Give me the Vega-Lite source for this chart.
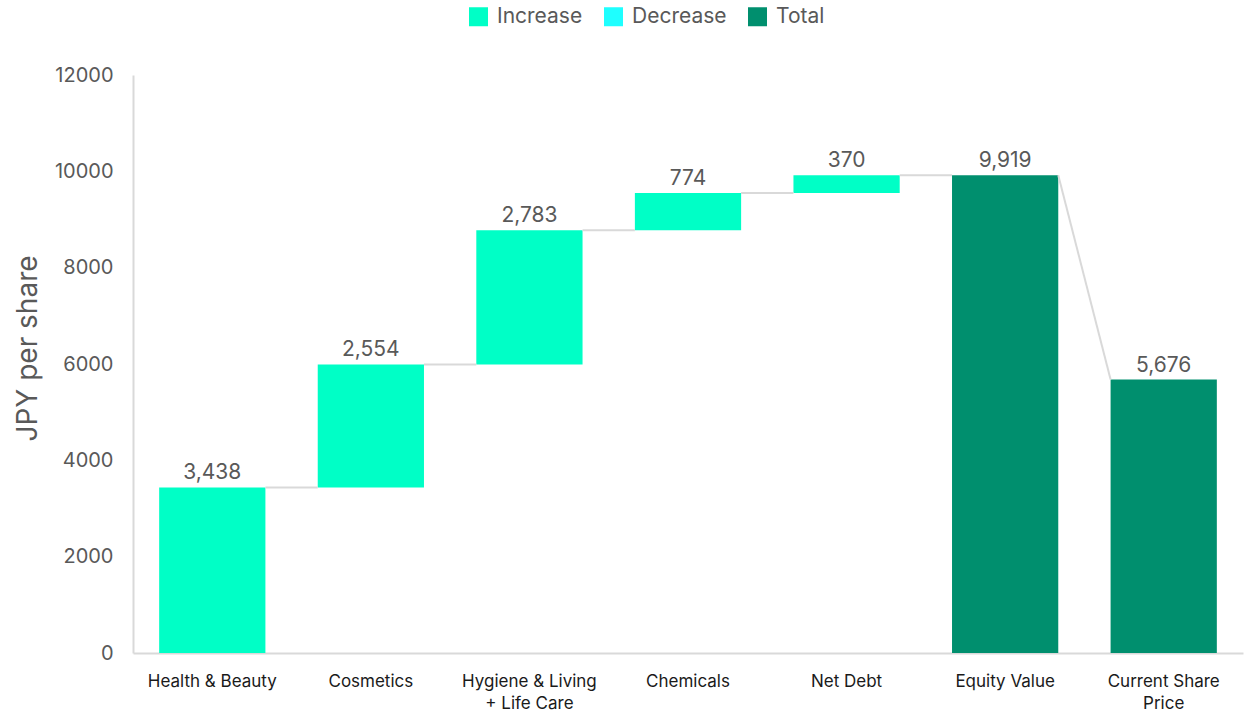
{
  "$schema": "https://vega.github.io/schema/vega-lite/v6.json",
  "width": 1110,
  "height": 578,
  "autosize": {"type": "none"},
  "padding": {"left": 133, "top": 75, "right": 2, "bottom": 61},
  "background": "white",
  "config": {
    "view": {"stroke": null},
    "font": "Inter",
    "axisX": {
      "labelAngle": 0,
      "labelFontSize": 17,
      "labelColor": "#1a1a1a",
      "labelPadding": 20,
      "labelLineHeight": 22,
      "ticks": false,
      "domainColor": "#D9D9D9",
      "domainWidth": 2,
      "title": null
    }
  },
  "datasets": {
    "steps": [
      {"category": "Health & Beauty", "kind": "Increase", "start": 0, "end": 3438, "amount": 3438},
      {"category": "Cosmetics", "kind": "Increase", "start": 3438, "end": 5992, "amount": 2554},
      {"category": "Hygiene & Living + Life Care", "kind": "Increase", "start": 5992, "end": 8775, "amount": 2783},
      {"category": "Chemicals", "kind": "Increase", "start": 8775, "end": 9549, "amount": 774},
      {"category": "Net Debt", "kind": "Increase", "start": 9549, "end": 9919, "amount": 370},
      {"category": "Equity Value", "kind": "Total", "start": 0, "end": 9919, "amount": 9919},
      {"category": "Current Share Price", "kind": "Total", "start": 0, "end": 5676, "amount": 5676}
    ],
    "links": [
      {"from": "Health & Beauty", "to": "Cosmetics", "from_level": 3438, "to_level": 3438},
      {"from": "Cosmetics", "to": "Hygiene & Living + Life Care", "from_level": 5992, "to_level": 5992},
      {"from": "Hygiene & Living + Life Care", "to": "Chemicals", "from_level": 8775, "to_level": 8775},
      {"from": "Chemicals", "to": "Net Debt", "from_level": 9549, "to_level": 9549},
      {"from": "Net Debt", "to": "Equity Value", "from_level": 9919, "to_level": 9919},
      {"from": "Equity Value", "to": "Current Share Price", "from_level": 9919, "to_level": 5676}
    ]
  },
  "layer": [
    {
      "data": {"name": "steps"},
      "mark": {"type": "bar"},
      "encoding": {
        "x": {
          "field": "category",
          "type": "nominal",
          "title": null,
          "scale": {
            "domain": ["Health & Beauty", "Cosmetics", "Hygiene & Living + Life Care", "Chemicals", "Net Debt", "Equity Value", "Current Share Price"],
            "paddingInner": 0.33,
            "paddingOuter": 0.165
          },
          "axis": {
            "labelExpr": "datum.value == 'Hygiene & Living + Life Care' ? ['Hygiene & Living', '+ Life Care'] : datum.value == 'Current Share Price' ? ['Current Share', 'Price'] : datum.value"
          }
        },
        "y": {
          "field": "start",
          "type": "quantitative",
          "scale": {"domain": [0, 12000], "nice": false},
          "axis": {
            "values": [0, 2000, 4000, 6000, 8000, 10000, 12000],
            "format": "d",
            "grid": false,
            "ticks": false,
            "labelPadding": 20,
            "labelFontSize": 20,
            "labelColor": "#595959",
            "domainColor": "#D9D9D9",
            "domainWidth": 2,
            "title": "JPY per share",
            "titleFontSize": 28,
            "titleFontWeight": "normal",
            "titleColor": "#595959",
            "titlePadding": 12,
            "titleY": 273,
            "titleAlign": "center"
          }
        },
        "y2": {"field": "end"},
        "color": {
          "field": "kind",
          "type": "nominal",
          "scale": {
            "domain": ["Increase", "Decrease", "Total"],
            "range": ["#00FFC6", "#1EFFFF", "#008F6E"]
          },
          "legend": {
            "orient": "none",
            "legendX": 335,
            "legendY": -69,
            "direction": "horizontal",
            "title": null,
            "symbolType": "square",
            "symbolSize": 361,
            "symbolStrokeWidth": 0,
            "symbolOpacity": 1,
            "labelFontSize": 21,
            "labelColor": "#595959",
            "labelOffset": 8,
            "columnPadding": 20
          }
        }
      }
    },
    {
      "data": {"name": "links"},
      "mark": {"type": "rule", "color": "#D9D9D9", "strokeWidth": 2},
      "encoding": {
        "x": {"field": "from", "type": "nominal", "bandPosition": 1, "title": null},
        "x2": {"field": "to", "bandPosition": 0},
        "y": {"field": "from_level", "type": "quantitative"},
        "y2": {"field": "to_level"}
      }
    },
    {
      "data": {"name": "steps"},
      "mark": {"type": "text", "fontSize": 21, "color": "#595959", "baseline": "bottom", "dy": -4},
      "encoding": {
        "x": {"field": "category", "type": "nominal", "title": null},
        "y": {"field": "end", "type": "quantitative"},
        "text": {"field": "amount", "type": "quantitative", "format": ","}
      }
    }
  ]
}
